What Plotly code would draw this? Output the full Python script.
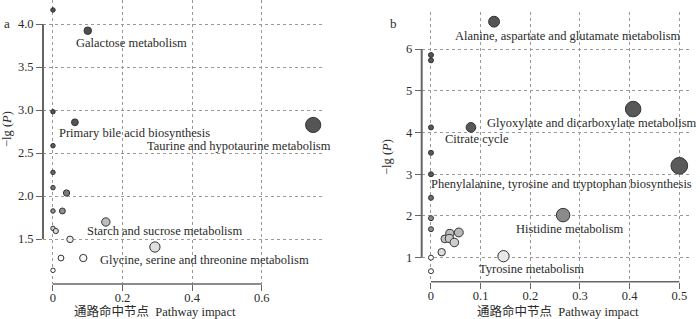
import plotly.graph_objects as go
import numpy as np

# ---------------- data: panel a ----------------
a_impact = [0.0, 0.100, 0.0, 0.063, 0.748, 0.0, 0.0, 0.0, 0.039, 0.0, 0.027,
            0.152, 0.0, 0.008, 0.049, 0.293, 0.023, 0.087, 0.0]
a_lgp = [4.163, 3.922, 2.98, 2.857, 2.826, 2.585, 2.275, 2.097, 2.035, 1.826, 1.826,
         1.698, 1.624, 1.593, 1.496, 1.407, 1.279, 1.279, 1.136]
a_labels = ["Galactose metabolism", "Primary bile acid biosynthesis",
            "Taurine and hypotaurine metabolism", "Starch and sucrose metabolism",
            "Glycine, serine and threonine metabolism"]
a_label_x = [0.226, 0.233, 0.534, 0.322, 0.437]
a_label_y = [3.779, 2.733, 2.581, 1.593, 1.256]
a_xticks = [0, 0.2, 0.4, 0.6]
a_xticktext = ["0", "0.2", "0.4", "0.6"]
a_yticks = [1.5, 2.0, 2.5, 3.0, 3.5, 4.0]

# ---------------- data: panel b ----------------
b_impact = [0.127, 0.0, 0.0, 0.407, 0.0, 0.0805, 0.0, 0.5, 0.0, 0.0, 0.0, 0.0,
            0.266, 0.038, 0.056, 0.028, 0.037, 0.047, 0.0215, 0.146, 0.0, 0.0]
b_lgp = [6.655, 5.856, 5.728, 4.561, 4.122, 4.122, 3.513, 3.202, 3.0, 2.434, 1.947, 1.683,
         2.02, 1.58, 1.604, 1.451, 1.46, 1.365, 1.132, 1.036, 1.0, 0.676]
b_labels = ["Alanine, aspartate and glutamate metabolism",
            "Glyoxylate and dicarboxylate metabolism", "Citrate cycle",
            "Phenylalanine, tyrosine and tryptophan biosynthesis",
            "Histidine metabolism", "Tyrosine metabolism"]
b_label_x = [0.276, 0.324, 0.0936, 0.263, 0.279, 0.202]
b_label_y = [6.319, 4.225, 3.835, 2.763, 1.676, 0.717]
b_xticks = [0, 0.1, 0.2, 0.3, 0.4, 0.5]
b_xticktext = ["0", "0.1", "0.2", "0.3", "0.4", "0.5"]
b_yticks = [1, 2, 3, 4, 5, 6]

SERIF = "Liberation Serif, Times New Roman, Noto Sans CJK SC, serif"
TXT = "#2a2a2a"
GRID = "#9a9a9a"
AX = "#666666"


def scale_from(stops, vmin, vmax):
    return [[(v - vmin) / (vmax - vmin), c] for v, c in stops]


a_cmin, a_cmax = 1.13, 4.2
a_scale = scale_from([(1.13, "#ffffff"), (1.30, "#f8f8f8"), (1.41, "#dedede"),
                      (1.5, "#eeeeee"), (1.7, "#bdbdbd"), (1.83, "#8c8c8c"),
                      (2.03, "#7a7a7a"), (2.3, "#636363"), (2.8, "#555555"),
                      (4.2, "#4d4d4d")], a_cmin, a_cmax)
b_cmin, b_cmax = 0.67, 6.7
b_scale = scale_from([(0.67, "#ffffff"), (1.0, "#fcfcfc"), (1.04, "#e6e6e6"),
                      (1.13, "#dcdcdc"), (1.4, "#cccccc"), (1.6, "#bbbbbb"),
                      (1.68, "#8f8f8f"), (2.05, "#8a8a8a"), (2.43, "#6e6e6e"),
                      (3.0, "#5a5a5a"), (6.7, "#555555")], b_cmin, b_cmax)

a_size = [4.5 + 8 * np.sqrt(v) + 5 * v for v in a_impact]
b_size = [5 + 16.5 * np.sqrt(v) for v in b_impact]

fig = go.Figure()
fig.add_trace(go.Scatter(
    x=a_impact, y=a_lgp, mode="markers", xaxis="x", yaxis="y",
    marker=dict(size=a_size, color=a_lgp, colorscale=a_scale, cmin=a_cmin, cmax=a_cmax,
                line=dict(color="#333333", width=1), opacity=1),
    showlegend=False, hoverinfo="x+y"))
fig.add_trace(go.Scatter(
    x=b_impact, y=b_lgp, mode="markers", xaxis="x2", yaxis="y2",
    marker=dict(size=b_size, color=b_lgp, colorscale=b_scale, cmin=b_cmin, cmax=b_cmax,
                line=dict(color="#333333", width=1), opacity=1),
    showlegend=False, hoverinfo="x+y"))

W, H = 700, 319
a_dom_x = [43 / W, 325 / W]
a_dom_y = [1 - 284 / H, 1.0]
b_dom_x = [421.7 / W, 690 / W]
b_dom_y = [1 - 281.7 / H, 1 - 12 / H]

a_xr = [-0.0287, 0.782]
a_yr = [0.977, 4.279]
b_xr = [-0.0187, 0.5215]
b_yr = [0.4245, 6.887]

common = dict(showgrid=True, gridcolor=GRID, griddash="dot", gridwidth=1,
              zeroline=False, showline=False, ticks="outside", ticklen=6,
              tickcolor=AX, tickwidth=1, automargin=False,
              tickfont=dict(family=SERIF, size=12.5, color=TXT))

fig.update_layout(
    width=W, height=H, margin=dict(l=0, r=0, t=0, b=0),
    paper_bgcolor="white", plot_bgcolor="white",
    xaxis=dict(domain=a_dom_x, range=a_xr, tickvals=a_xticks, ticktext=a_xticktext,
               anchor="y", ticklabelstandoff=-4, **common),
    yaxis=dict(domain=a_dom_y, range=a_yr, tickvals=a_yticks, tickformat=".1f",
               anchor="x", **common),
    xaxis2=dict(domain=b_dom_x, range=b_xr, tickvals=b_xticks, ticktext=b_xticktext,
                anchor="y2", ticklabelstandoff=-4, **common),
    yaxis2=dict(domain=b_dom_y, range=b_yr, tickvals=b_yticks, anchor="x2", **common),
)

shapes = [
    dict(type="line", xref="x", yref="y domain", x0=a_xticks[0], x1=a_xticks[-1], y0=0, y1=0,
         line=dict(color=AX, width=1.5)),
    dict(type="line", xref="x domain", yref="y", x0=0, x1=0, y0=a_yticks[0], y1=a_yticks[-1],
         line=dict(color=AX, width=2)),
    dict(type="line", xref="x2", yref="y2 domain", x0=b_xticks[0], x1=b_xticks[-1], y0=0, y1=0,
         line=dict(color=AX, width=1.5)),
    dict(type="line", xref="x2 domain", yref="y2", x0=0, x1=0, y0=b_yticks[0], y1=b_yticks[-1],
         line=dict(color=AX, width=2)),
]
fig.update_layout(shapes=shapes)

ann = []
for t, x, y in zip(a_labels, a_label_x, a_label_y):
    ann.append(dict(text=t, x=x, y=y, xref="x", yref="y", showarrow=False,
                    xanchor="center", yanchor="middle",
                    font=dict(family=SERIF, size=12.5, color=TXT)))
for t, x, y in zip(b_labels, b_label_x, b_label_y):
    ann.append(dict(text=t, x=x, y=y, xref="x2", yref="y2", showarrow=False,
                    xanchor="center", yanchor="middle",
                    font=dict(family=SERIF, size=12.5, color=TXT)))


def px(x, y):
    return x / W, 1 - y / H


for txt, (x, y) in [("a", (6.5, 24)), ("b", (393, 24))]:
    xx, yy = px(x, y)
    ann.append(dict(text=txt, x=xx, y=yy, xref="paper", yref="paper", showarrow=False,
                    xanchor="center", yanchor="middle",
                    font=dict(family=SERIF, size=13, color=TXT)))
for (x, y) in [(7, 129), (387, 157)]:
    xx, yy = px(x, y)
    ann.append(dict(text="−lg (<i>P</i>)", x=xx, y=yy, xref="paper", yref="paper",
                    showarrow=False, textangle=-90, xanchor="center", yanchor="middle",
                    font=dict(family=SERIF, size=12.5, color=TXT)))
for (x, y) in [(155, 311), (557.5, 311)]:
    xx, yy = px(x, y)
    ann.append(dict(text="通路命中节点  Pathway impact", x=xx, y=yy, xref="paper", yref="paper",
                    showarrow=False, xanchor="center", yanchor="middle",
                    font=dict(family=SERIF, size=12.5, color=TXT)))
fig.update_layout(annotations=ann)

fig.write_html("out.html", config={"displayModeBar": False},
               post_script="document.body.style.margin='0px';document.body.style.overflow='hidden';")
